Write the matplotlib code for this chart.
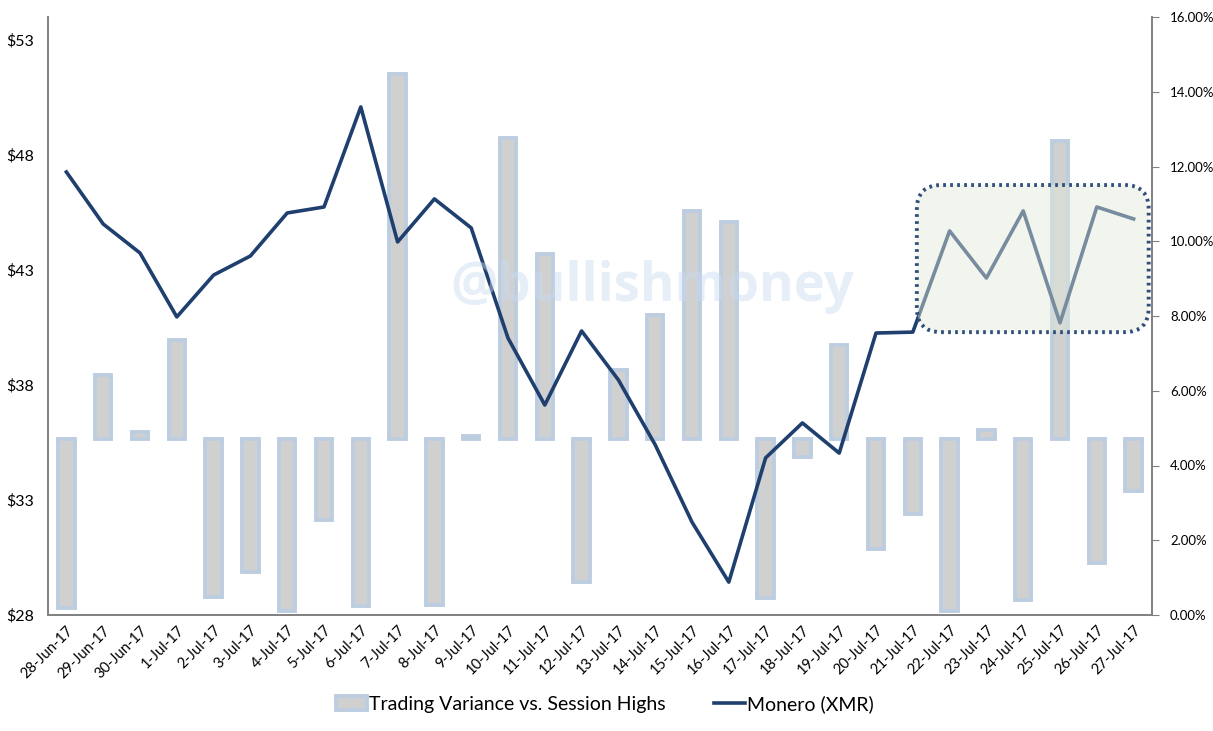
import matplotlib
matplotlib.use("Agg")
import matplotlib.pyplot as plt
from matplotlib.patches import FancyBboxPatch, Patch
from matplotlib.lines import Line2D
from matplotlib.ticker import FuncFormatter, MultipleLocator
import numpy as np

plt.rcParams['font.family'] = ['Lato', 'DejaVu Sans']

# dates on the x axis
dates = ['28-Jun-17', '29-Jun-17', '30-Jun-17'] + ['%d-Jul-17' % d for d in range(1, 28)]

# Monero (XMR) price, $ (left axis)
price = [47.26, 45.00, 43.74, 40.96, 42.78, 43.61, 45.48, 45.74, 50.09, 44.22,
         46.09, 44.83, 40.04, 37.13, 40.35, 38.22, 35.40, 32.04, 29.43, 34.83,
         36.35, 35.04, 40.26, 40.30, 44.70, 42.65, 45.57, 40.70, 45.74, 45.22]

# trading variance vs. session highs, % points around the reference level (right axis)
var_base = 4.71
variance = [-4.52, 1.71, 0.19, 2.65, -4.23, -3.56, -4.60, -2.17, -4.47, 9.76,
            -4.44, 0.08, 8.05, 4.95, -3.83, 1.85, 3.32, 6.10, 5.81, -4.26,
            -0.48, 2.51, -2.94, -2.01, -4.60, 0.24, -4.31, 7.97, -3.32, -1.39]

navy = '#1f3f6e'
x = np.arange(len(dates))

fig = plt.figure(figsize=(12.13, 7.31), dpi=100)
ax = fig.add_axes([48 / 1213, 1 - 615 / 731, 1104 / 1213, 598 / 731])
ax2 = ax.twinx()

# bars on the percent scale (shown on the right)
ax.bar(x, variance, bottom=var_base, width=0.45, color='#d0d0d0',
       edgecolor='#bdcde0', linewidth=2.8, zorder=2)
ax.set_ylim(0, 16)
ax.set_xlim(-0.5, len(dates) - 0.5)
ax.yaxis.tick_right()
ax.yaxis.set_major_locator(MultipleLocator(2))
ax.yaxis.set_major_formatter(FuncFormatter(lambda v, p: '%.2f%%' % v))
ax.tick_params(axis='y', right=True, left=False, labelright=True, labelleft=False,
               length=5, color='#808080', labelsize=9.5, pad=8)
ax.set_xticks(x)
ax.set_xticklabels(dates, rotation=45, ha='right', rotation_mode='anchor')
ax.tick_params(axis='x', length=0, labelsize=10.5, pad=6)

# price line on the $ scale (shown on the left)
ax2.plot(x, price, color=navy, linewidth=2.6, zorder=3)
ax2.set_ylim(28, 54)
ax2.yaxis.tick_left()
ax2.set_yticks([28, 33, 38, 43, 48, 53])
ax2.yaxis.set_major_formatter(FuncFormatter(lambda v, p: '$%d' % v))
ax2.tick_params(axis='y', left=False, right=False, labelleft=True, labelright=False,
                labelsize=11.5, pad=10, length=0)

for a in (ax, ax2):
    a.spines['top'].set_visible(False)
    for s in ('left', 'right', 'bottom'):
        a.spines[s].set_color('#808080')
        a.spines[s].set_linewidth(1.2)

# highlight box over the last week
box = FancyBboxPatch((0.787, 0.473), 0.21, 0.246,
                     boxstyle='round,pad=0,rounding_size=0.022',
                     mutation_aspect=1104 / 598, transform=ax2.transAxes,
                     facecolor='#e4ebd9', alpha=0.45, edgecolor='none', zorder=5)
ax2.add_patch(box)
border = FancyBboxPatch((0.787, 0.473), 0.21, 0.246,
                        boxstyle='round,pad=0,rounding_size=0.022',
                        mutation_aspect=1104 / 598, transform=ax2.transAxes,
                        facecolor='none', edgecolor='#2f4f7a', linewidth=2.8,
                        linestyle=(0, (0.7, 1.1)), zorder=6)
ax2.add_patch(border)

# watermark
fig.text(652 / 1213, 1 - 287 / 731, '@bullishmoney', ha='center', va='center',
         fontsize=38, fontweight='bold', family=['Open Sans', 'DejaVu Sans'],
         color='#c9daf0', alpha=0.45, zorder=10)

handles = [Patch(facecolor='#d0d0d0', edgecolor='#bdcde0', linewidth=2.8),
           Line2D([0], [0], color=navy, linewidth=2.6)]
fig.legend(handles, ['Trading Variance vs. Session Highs', 'Monero (XMR)'],
           loc='center', bbox_to_anchor=(605 / 1213, 1 - 704 / 731), ncol=2,
           frameon=False, fontsize=14, handlelength=1.6, handletextpad=0.1,
           columnspacing=2.5)

fig.savefig('out.png', dpi=100)
